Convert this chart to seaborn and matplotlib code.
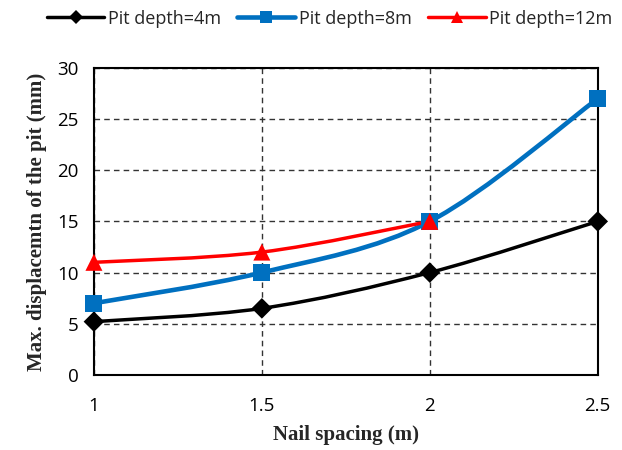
import numpy as np
import pandas as pd
import seaborn as sns
import matplotlib.pyplot as plt
from matplotlib.path import Path
from matplotlib.patches import PathPatch
from matplotlib.lines import Line2D

# ----------------------------
# Data
# ----------------------------
spacing = [1, 1.5, 2, 2.5]
disp_4m = [5.2, 6.5, 10, 15]
disp_8m = [7, 10, 15, 27]
disp_12m = [11, 12, 15]

# name, x, y, colour, marker, marker area, line width
series = [
    ("Pit depth=4m", spacing, disp_4m, "black", "D", 110, 2.5),
    ("Pit depth=8m", spacing, disp_8m, "#0070C0", "s", 150, 3.3),
    ("Pit depth=12m", spacing[:3], disp_12m, "#FF0000", "^", 150, 2.5),
]


def smooth_path(x, y):
    """Excel-style smoothed line as cubic Bezier segments."""
    pts = np.column_stack([x, y]).astype(float)
    verts = [pts[0]]
    codes = [Path.MOVETO]
    n = len(pts)
    for i in range(n - 1):
        p0 = pts[i - 1] if i > 0 else pts[i]
        p1 = pts[i]
        p2 = pts[i + 1]
        p3 = pts[i + 2] if i + 2 < n else pts[i + 1]
        c1 = p1 + (p2 - p0) / 6.0
        c2 = p2 - (p3 - p1) / 6.0
        verts += [c1, c2, p2]
        codes += [Path.CURVE4] * 3
    return Path(verts, codes)


sns.set_style("white")
plt.rcParams['font.family'] = ['Open Sans', 'DejaVu Sans']

fig = plt.figure(figsize=(6.22, 4.5), dpi=100)
ax = fig.add_axes([0.151, 0.167, 0.810, 0.682])

rows = []
for name, xs, ys, color, marker, area, lw in series:
    ax.add_patch(PathPatch(smooth_path(xs, ys), facecolor="none", edgecolor=color,
                           lw=lw, zorder=3, capstyle="round", clip_on=False))
    for xv, yv in zip(xs, ys):
        rows.append({"spacing": xv, "disp": yv, "series": name})

df = pd.DataFrame(rows)
for name, xs, ys, color, marker, area, lw in series:
    sub = df[df["series"] == name]
    sns.scatterplot(data=sub, x="spacing", y="disp", color=color, marker=marker,
                    s=area, edgecolor="none", legend=False, ax=ax, zorder=4, clip_on=False)

ax.set_xlim(1, 2.5)
ax.set_ylim(0, 30)
ax.set_xticks([1, 1.5, 2, 2.5])
ax.set_xticklabels(["1", "1.5", "2", "2.5"])
ax.set_yticks(range(0, 31, 5))
ax.grid(True, linestyle=(0, (4, 3)), color="#333333", lw=1)
for sp in ax.spines.values():
    sp.set_color("black")
    sp.set_linewidth(1.5)
ax.tick_params(axis="both", labelsize=13.5, labelcolor="black", color="#888888",
               length=6, width=1, direction="out")
ax.tick_params(axis="x", pad=10)
ax.tick_params(axis="y", pad=5)

ax.set_xlabel("Nail spacing (m)", fontsize=15, fontweight="bold",
              family="Liberation Serif", labelpad=7)
ax.set_ylabel("Max. displacemtn of the pit (mm)", fontsize=15, fontweight="bold",
              family="Liberation Serif", labelpad=7)

handles = [Line2D([0], [0], color=c, marker=m, markersize=np.sqrt(a) * 0.7, lw=lw,
                  markeredgewidth=0)
           for _, _, _, c, m, a, lw in series]
fig.legend(handles, [s[0] for s in series], loc="upper center", bbox_to_anchor=(0.53, 1.015),
           ncol=3, frameon=False, fontsize=13, handlelength=3.2, columnspacing=0.9,
           handletextpad=0.2)

plt.savefig("out.png", dpi=100)
plt.close()
